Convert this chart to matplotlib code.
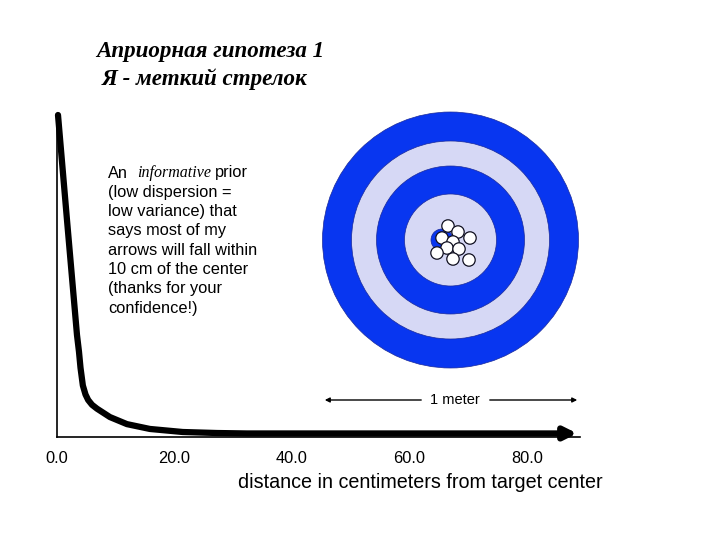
import matplotlib
matplotlib.use('Agg')
import matplotlib.pyplot as plt
from matplotlib.patches import Circle

plt.rcParams['font.family'] = 'Liberation Sans'

# prior density curve (distance in cm, relative density)
dist_cm = [0.17, 1.7, 3.4, 3.74, 4.0, 4.4, 4.85, 5.3, 5.96, 6.8, 9.0, 11.9, 15.8,
           21.4, 27.2, 32.3, 45.0, 60.0, 75.0, 86.0]
density = [1.0, 0.674, 0.317, 0.265, 0.215, 0.160, 0.132, 0.115, 0.100, 0.088,
           0.062, 0.040, 0.025, 0.0155, 0.0124, 0.011, 0.011, 0.011, 0.011, 0.011]
x_ticks = [0, 20, 40, 60, 80]

# target (pixel coordinates of the slide)
target_center = (450.5, 240)
ring_radii = [128, 99, 74, 46]
ring_colors = ['#0836F0', '#D6D8F5', '#0836F0', '#D6D8F5']
bull_center = (442, 240)
bull_radius = 11
arrow_x = [448, 458, 470, 442, 453, 447, 459, 437, 453, 469]
arrow_y = [226, 232, 238, 238, 242, 248, 249, 253, 259, 260]

note_lines = ['(low dispersion =', 'low variance) that', 'says most of my',
              'arrows will fall within', '10 cm of the center',
              '(thanks for your', 'confidence!)']

W, H = 720, 540
fig = plt.figure(figsize=(7.2, 5.4), dpi=100)

# main axes: x=0 at px 57, x=89 at px 580; y 0 at py 437, 1 at py 115
x0, x1, ytop, ybot = 57, 580, 115, 437
ax = fig.add_axes([x0 / W, 1 - ybot / H, (x1 - x0) / W, (ybot - ytop) / H])
ax.set_xlim(0, 89)
ax.set_ylim(0, 1.0)
ax.plot(dist_cm, density, color='black', lw=4.5, solid_capstyle='round',
        solid_joinstyle='round', clip_on=False)
ax.annotate('', xy=(89, density[-1]), xytext=(dist_cm[-1] - 1, density[-1]),
            arrowprops=dict(arrowstyle='-|>', color='black', lw=4.5, mutation_scale=18),
            annotation_clip=False)
for s in ['top', 'right']:
    ax.spines[s].set_visible(False)
ax.spines['left'].set_linewidth(1.2)
ax.spines['bottom'].set_linewidth(1.2)
ax.set_yticks([])
ax.set_xticks(x_ticks)
ax.set_xticklabels(['%.1f' % t for t in x_ticks], fontsize=11.8)
ax.tick_params(axis='x', length=0, pad=10)
ax.set_xlabel('distance in centimeters from target center', fontsize=14.2)
ax.xaxis.set_label_coords(0.695, -0.112)

# overlay in pixel coordinates
ov = fig.add_axes([0, 0, 1, 1])
ov.set_xlim(0, W)
ov.set_ylim(H, 0)
ov.axis('off')

for r, c in zip(ring_radii, ring_colors):
    ov.add_patch(Circle(target_center, r, facecolor=c, edgecolor='#1a2a9a', lw=0.5))
ov.add_patch(Circle(bull_center, bull_radius, facecolor='#0836F0', edgecolor='#1a2a9a', lw=0.5))
for ax_, ay_ in zip(arrow_x, arrow_y):
    ov.add_patch(Circle((ax_, ay_), 6.2, facecolor='white', edgecolor='#101020', lw=0.9))

# 1 meter scale
ov.text(455, 400, '1 meter', fontsize=10.5, ha='center', va='center')
ov.annotate('', xy=(322, 400), xytext=(424, 400),
            arrowprops=dict(arrowstyle='-|>', color='black', lw=1.0, mutation_scale=7))
ov.annotate('', xy=(580, 400), xytext=(487, 400),
            arrowprops=dict(arrowstyle='-|>', color='black', lw=1.0, mutation_scale=7))

# title
ov.text(210, 52, 'Априорная гипотеза 1', family='Liberation Serif', style='italic',
        weight='bold', fontsize=16.6, ha='center', va='center')
ov.text(204.5, 79, 'Я - меткий стрелок', family='Liberation Serif', style='italic',
        weight='bold', fontsize=16.6, ha='center', va='center')

# note
ov.text(108, 173, 'An', fontsize=11.8, va='center')
ov.text(137, 173, 'informative', family='Liberation Serif', style='italic',
        fontsize=11.5, va='center')
ov.text(215, 173, 'prior', fontsize=11.8, va='center')
for i, line in enumerate(note_lines):
    ov.text(108, 192.3 + i * 19.3, line, fontsize=11.8, va='center')

fig.savefig('out.png', dpi=100)
